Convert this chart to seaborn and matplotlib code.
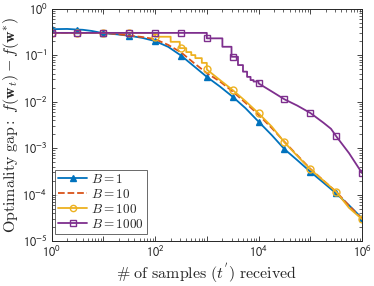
import numpy as np
import pandas as pd
import matplotlib
matplotlib.use("Agg")
import matplotlib.pyplot as plt
import seaborn as sns
from matplotlib.lines import Line2D
from matplotlib.ticker import LogLocator, FuncFormatter, NullFormatter

sns.set_theme(style="white")
plt.rcParams['font.family'] = ['Liberation Sans', 'DejaVu Sans']
plt.rcParams['mathtext.fontset'] = 'stixsans'

# ---- data ----
labels = ["$B = 1$", "$B = 10$", "$B = 100$", "$B = 1000$"]
colors = ["#0072BD", "#D95319", "#EDB120", "#7E2F8E"]

t_b1 = [1, 2, 3, 4, 6, 10, 18, 32, 56, 100, 180, 316, 560, 1000, 1800, 3162,
        5600, 10000, 18000, 31623, 56000, 100000, 180000, 316228, 560000, 1000000]
gap_b1 = [0.36, 0.365, 0.355, 0.35, 0.33, 0.295, 0.28, 0.26, 0.235, 0.20, 0.15,
          0.098, 0.058, 0.034, 0.021, 0.0127, 0.0072, 0.0037, 0.0019, 0.00095,
          0.00055, 0.00031, 0.00018, 0.000106, 0.000059, 0.000031]

t_b10 = [1, 10, 20, 30, 56, 100, 180, 316, 560, 1000, 1800, 3162, 5600, 10000,
         18000, 31623, 56000, 100000, 180000, 316228, 560000, 1000000]
gap_b10 = [0.30, 0.30, 0.28, 0.265, 0.245, 0.22, 0.165, 0.115, 0.068, 0.041,
           0.027, 0.0165, 0.0094, 0.0052, 0.0027, 0.00137, 0.0007, 0.00036,
           0.0002, 0.000115, 0.000058, 0.00003]

t_b100 = [1, 100, 200, 300, 400, 500, 600, 800, 1000, 1800, 3162, 5600, 10000,
          18000, 31623, 56000, 100000, 180000, 316228, 560000, 1000000]
gap_b100 = [0.30, 0.248, 0.193, 0.141, 0.116, 0.10, 0.086, 0.068, 0.049, 0.029,
            0.0177, 0.0102, 0.0056, 0.0029, 0.00133, 0.00068, 0.00035, 0.0002,
            0.000115, 0.000052, 0.0000296]

t_b1000 = [1, 1000, 2000, 3000, 4000, 5000, 6000, 7000, 8000, 10000, 18000,
           31623, 56000, 100000, 180000, 251189, 316228, 560000, 1000000]
gap_b1000 = [0.30, 0.229, 0.151, 0.092, 0.061, 0.044, 0.034, 0.029, 0.027,
             0.0246, 0.0165, 0.0112, 0.0082, 0.0057, 0.0035, 0.0026, 0.0018,
             0.00078, 0.00029]

# last sample index of the staircase part of each series (updates every B samples)
step_end = [None, None, 1000, 10000]

series_t = [t_b1, t_b10, t_b100, t_b1000]
series_g = [gap_b1, gap_b10, gap_b100, gap_b1000]
markers = ["^", None, "o", "s"]
marker_t = [1, 3.162, 10, 31.62, 100, 316.2, 1000, 3162, 10000, 31623,
            100000, 316228, 1000000]


def build_path(t, g, send):
    xs, ys = [t[0]], [g[0]]
    for i in range(1, len(t)):
        if send is not None and t[i] <= send:
            xs.append(t[i]); ys.append(g[i - 1])
        xs.append(t[i]); ys.append(g[i])
    return np.array(xs, float), np.array(ys, float)


def eval_path(xs, ys, xq):
    out = []
    lx, ly = np.log10(xs), np.log10(ys)
    for q in np.log10(xq):
        idx = np.where(lx <= q + 1e-9)[0][-1]
        if idx == len(lx) - 1:
            out.append(ly[-1])
        else:
            x0, x1 = lx[idx], lx[idx + 1]
            if x1 - x0 < 1e-12:
                out.append(ly[idx + 1])
            else:
                out.append(ly[idx] + (ly[idx + 1] - ly[idx]) * (q - x0) / (x1 - x0))
    return 10 ** np.array(out)


fig = plt.figure(figsize=(3.74, 2.86), dpi=100)
ax = fig.add_axes([0.138, 0.157, 0.830, 0.813])

handles = []
for k in range(4):
    xs, ys = build_path(series_t[k], series_g[k], step_end[k])
    df = pd.DataFrame({"t": xs, "gap": ys})
    ls = "--" if k == 1 else "-"
    sns.lineplot(data=df, x="t", y="gap", ax=ax, estimator=None, sort=False,
                 color=colors[k], linewidth=1.3, linestyle=ls, legend=False)
    mk = markers[k]
    if mk is not None:
        my = eval_path(xs, ys, marker_t)
        fc = colors[k] if mk == "^" else "none"
        ax.plot(marker_t, my, linestyle="none", marker=mk,
                markersize=5 if mk != "^" else 5.0,
                markerfacecolor=fc, markeredgecolor=colors[k], markeredgewidth=1.0)
    handles.append(Line2D([], [], color=colors[k], linewidth=1.3, linestyle=ls,
                          marker=mk if mk else "None", markersize=4.5,
                          markerfacecolor=(colors[k] if mk == "^" else "none"),
                          markeredgecolor=colors[k]))

ax.set_xscale("log")
ax.set_yscale("log")
ax.set_xlim(1, 1e6)
ax.set_ylim(1e-5, 1)

ax.xaxis.set_major_locator(LogLocator(base=10, numticks=20))
ax.xaxis.set_minor_locator(LogLocator(base=10, subs=np.arange(2, 10), numticks=100))
ax.xaxis.set_major_formatter(FuncFormatter(
    lambda v, p: ("$10^{%d}$" % round(np.log10(v))) if round(np.log10(v)) % 2 == 0 else ""))
ax.xaxis.set_minor_formatter(NullFormatter())
ax.yaxis.set_major_locator(LogLocator(base=10, numticks=20))
ax.yaxis.set_minor_locator(LogLocator(base=10, subs=np.arange(2, 10), numticks=100))
ax.yaxis.set_major_formatter(FuncFormatter(lambda v, p: "$10^{%d}$" % round(np.log10(v))))
ax.yaxis.set_minor_formatter(NullFormatter())

ax.tick_params(which="both", direction="in", top=True, right=True, bottom=True, left=True,
               colors="#262626", labelcolor="#262626", labelsize=9)
ax.tick_params(which="major", length=3.5, width=0.6, pad=3)
ax.tick_params(which="minor", length=2, width=0.5)
for s in ax.spines.values():
    s.set_color("#262626")
    s.set_linewidth(0.7)

xl = ax.set_xlabel(r"$\#\ \mathrm{of\ samples\ }(t^{'})\mathrm{\ received}$", fontsize=11.5, labelpad=1)
yl = ax.set_ylabel(r"$\mathrm{Optimality\ gap{:}}\ f(\mathbf{w}_t) - f(\mathbf{w}^{*})$", fontsize=11.5, labelpad=1)
xl.set_math_fontfamily("cm")
yl.set_math_fontfamily("cm")

leg = ax.legend(handles, labels, loc="lower left", bbox_to_anchor=(0.01, 0.03),
                fontsize=9.5, frameon=True, fancybox=False, edgecolor="#262626",
                handlelength=2.2, handletextpad=0.3, labelspacing=0.15,
                borderpad=0.25, borderaxespad=0.0)
leg.get_frame().set_linewidth(0.6)
for txt in leg.get_texts():
    txt.set_math_fontfamily("cm")

fig.savefig("out.png", dpi=100)
